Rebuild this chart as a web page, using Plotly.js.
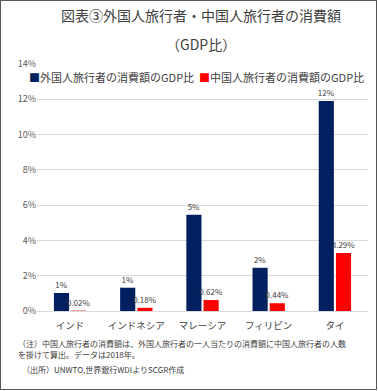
<!DOCTYPE html>
<html><head><meta charset="utf-8">
<script src="https://cdn.plot.ly/plotly-3.0.1.min.js"></script>
<style>
html,body{margin:0;padding:0;background:#fff;}
#wrap{position:relative;width:378px;height:391px;}
#plot{width:378px;height:391px;}
#frame{position:absolute;left:0;top:0;width:375px;height:388px;border:1px solid #595959;pointer-events:none;}
</style></head>
<body><div id="wrap"><div id="plot"></div><div id="frame"></div></div>
<script>
const categories = ["インド","インドネシア","マレーシア","フィリピン","タイ"];
const foreignShare = [1.02, 1.32, 5.45, 2.45, 11.90];
const chineseShare = [0.02, 0.18, 0.62, 0.44, 3.29];
const seriesNames = ["外国人旅行者の消費額のGDP比","中国人旅行者の消費額のGDP比"];
const seriesColors = ["#002060","#ff0000"];
const titleLines = ["図表③外国人旅行者・中国人旅行者の消費額","（GDP比）"];
const notes = [
  "（注）中国人旅行者の消費額は、外国人旅行者の一人当たりの消費額に中国人旅行者の人数",
  "を掛けて算出。データは2018年。",
  "（出所）UNWTO,世界銀行WDIよりSCGR作成"
];
const FONT = "'Noto Sans CJK JP', 'Noto Sans', sans-serif";

const traces = [
  {type:"bar", name:seriesNames[0], x:categories, y:foreignShare,
   marker:{color:seriesColors[0]}, texttemplate:"%{y:.0f}%", textposition:"outside",
   constraintext:"none", textfont:{size:8, color:"#404040"}, cliponaxis:false},
  {type:"bar", name:seriesNames[1], x:categories, y:chineseShare,
   marker:{color:seriesColors[1]}, texttemplate:"%{y:.2f}%", textposition:"outside",
   constraintext:"none", textfont:{size:8, color:"#404040"}, cliponaxis:false}
];

function ann(text, x, y, xanchor, size){
  return {text:text, x:x, y:y, xref:"paper", yref:"paper", xanchor:xanchor, yanchor:"middle",
          showarrow:false, font:{size:size, color:"#404040"}};
}
const annotations = [
  ann(titleLines[0], 0.495, 1.198, "center", 14),
  ann(titleLines[1], 0.495, 1.081, "center", 14),
  ann('<span style="color:'+seriesColors[0]+'">■</span>'+seriesNames[0], -0.03, 0.947, "left", 11),
  ann('<span style="color:'+seriesColors[1]+'">■</span>'+seriesNames[1], 0.483, 0.947, "left", 11),
  ann(notes[0], -0.063, -0.13, "left", 8),
  ann(notes[1], -0.063, -0.178, "left", 8),
  ann(notes[2], -0.05, -0.237, "left", 8)
];

const layout = {
  width:378, height:391,
  margin:{l:37, r:10, t:64, b:80},
  paper_bgcolor:"#fff", plot_bgcolor:"#fff",
  font:{family:FONT, color:"#595959"},
  showlegend:false,
  barmode:"group", bargap:0.48, bargroupgap:0.12,
  xaxis:{tickfont:{size:9.5,color:"#404040"}, showline:true, linecolor:"#d9d9d9", ticks:"",
         ticklabelstandoff:6, fixedrange:true},
  yaxis:{range:[0,14], dtick:2, ticksuffix:"%", tickfont:{size:9,color:"#595959"},
         gridcolor:"#d9d9d9", zeroline:false, showline:false, ticks:"", fixedrange:true},
  annotations:annotations
};
Plotly.newPlot("plot", traces, layout, {displayModeBar:false, staticPlot:true});
</script></body></html>
